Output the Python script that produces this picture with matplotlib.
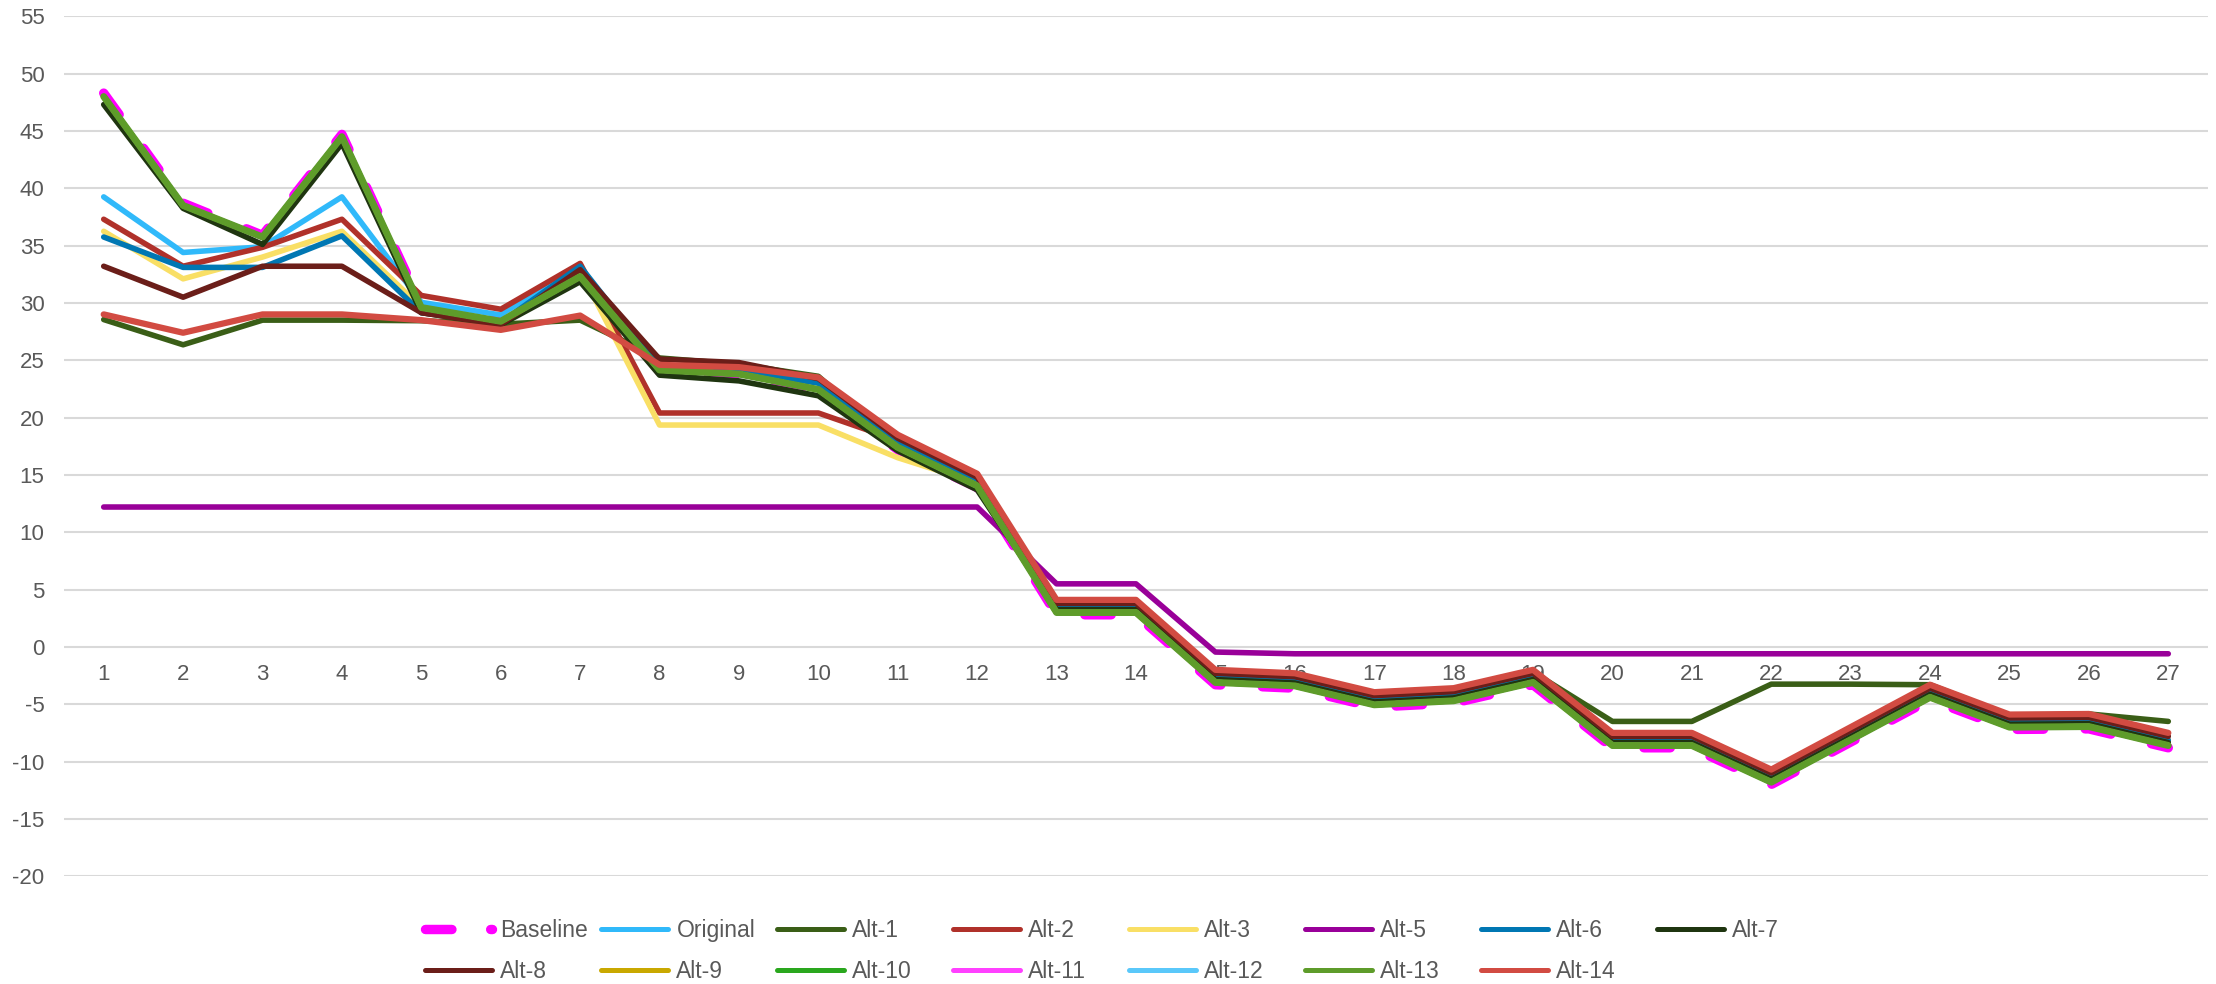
import matplotlib
matplotlib.use("Agg")
import matplotlib.pyplot as plt
from matplotlib.lines import Line2D

plt.rcParams['font.family'] = ['Liberation Sans', 'DejaVu Sans']
plt.rcParams['axes.unicode_minus'] = False

# categories on the x axis
categories = list(range(1, 28))

# series values
baseline = [48.3, 38.7, 35.9, 44.7, 29.8, 28.5, 32.4, 24.0, 23.6, 22.3, 17.2, 13.9, 2.8, 2.8,
            -3.3, -3.6, -5.25, -4.9, -3.3, -8.8, -8.8, -12.0, -8.3, -4.6, -7.2, -7.15, -8.8]
original = [39.25, 34.4, 34.9, 39.25, 30.05, 28.95, 33.0, 24.5, 24.2, 23.05, 17.9, 14.5, 3.45, 3.45,
            -2.65, -2.95, -4.6, -4.25, -2.65, -8.15, -8.15, -11.35, -7.65, -3.95, -6.55, -6.5, -8.15]
alt_1 = [28.55, 26.35, 28.5, 28.5, 28.45, 28.15, 28.5, 25.2, 24.65, 23.6, 17.6, 14.3, 3.0, 3.0,
         -2.9, -3.2, -4.8, -4.5, -2.2, -6.5, -6.5, -3.25, -3.25, -3.3, -6.0, -5.85, -6.5]
alt_2 = [37.3, 33.2, 34.85, 37.3, 30.65, 29.45, 33.45, 20.4, 20.4, 20.4, 18.0, 14.6, 3.45, 3.45,
         -2.65, -2.95, -4.6, -4.25, -2.65, -8.15, -8.15, -11.35, -7.65, -3.95, -6.55, -6.5, -8.15]
alt_3 = [36.25, 32.1, 34.0, 36.25, 29.6, 28.4, 32.85, 19.35, 19.35, 19.35, 16.5, 14.3, 3.45, 3.45,
         -2.65, -2.95, -4.6, -4.25, -2.65, -8.15, -8.15, -11.35, -7.65, -3.95, -6.55, -6.5, -8.15]
alt_5 = [12.2, 12.2, 12.2, 12.2, 12.2, 12.2, 12.2, 12.2, 12.2, 12.2, 12.2, 12.2, 5.5, 5.5,
         -0.45, -0.6, -0.6, -0.6, -0.6, -0.6, -0.6, -0.6, -0.6, -0.6, -0.6, -0.6, -0.6]
alt_6 = [35.75, 33.1, 33.1, 35.85, 29.15, 28.3, 33.2, 24.4, 24.1, 23.0, 17.9, 14.6, 3.45, 3.45,
         -2.65, -2.95, -4.6, -4.25, -2.65, -8.15, -8.15, -11.35, -7.65, -3.95, -6.55, -6.5, -8.15]
alt_7 = [47.3, 38.25, 35.1, 43.9, 29.15, 28.1, 31.85, 23.7, 23.2, 21.9, 17.1, 13.7, 3.25, 3.25,
         -2.85, -3.15, -4.8, -4.45, -2.85, -8.35, -8.35, -11.55, -7.85, -4.15, -6.75, -6.7, -8.35]
alt_8 = [33.2, 30.5, 33.2, 33.2, 29.15, 28.1, 32.9, 25.1, 24.8, 23.4, 18.2, 14.8, 3.8, 3.8,
         -2.3, -2.6, -4.25, -3.9, -2.3, -7.8, -7.8, -11.0, -7.3, -3.6, -6.2, -6.15, -7.8]
alt_9 = [48.0, 38.5, 35.75, 44.5, 29.6, 28.4, 32.3, 24.15, 23.8, 22.45, 17.4, 14.05, 3.0, 3.0,
         -3.1, -3.4, -5.05, -4.7, -3.1, -8.6, -8.6, -11.8, -8.1, -4.4, -7.0, -6.95, -8.6]
alt_10 = [48.0, 38.5, 35.75, 44.5, 29.6, 28.4, 32.3, 24.15, 23.8, 22.45, 17.4, 14.05, 3.0, 3.0,
          -3.1, -3.4, -5.05, -4.7, -3.1, -8.6, -8.6, -11.8, -8.1, -4.4, -7.0, -6.95, -8.6]
alt_11 = [48.0, 38.5, 35.75, 44.5, 29.6, 28.4, 32.3, 24.15, 23.8, 22.45, 17.4, 14.05, 3.0, 3.0,
          -3.1, -3.4, -5.05, -4.7, -3.1, -8.6, -8.6, -11.8, -8.1, -4.4, -7.0, -6.95, -8.6]
alt_12 = [48.0, 38.5, 35.75, 44.5, 29.6, 28.4, 32.3, 24.15, 23.8, 22.45, 17.4, 14.05, 3.0, 3.0,
          -3.1, -3.4, -5.05, -4.7, -3.1, -8.6, -8.6, -11.8, -8.1, -4.4, -7.0, -6.95, -8.6]
alt_13 = [48.0, 38.5, 35.75, 44.5, 29.6, 28.4, 32.3, 24.15, 23.8, 22.45, 17.4, 14.05, 3.0, 3.0,
          -3.1, -3.4, -5.05, -4.7, -3.1, -8.6, -8.6, -11.8, -8.1, -4.4, -7.0, -6.95, -8.6]
alt_14 = [29.0, 27.4, 29.0, 29.0, 28.5, 27.65, 28.9, 24.6, 24.4, 23.5, 18.5, 15.1, 4.1, 4.1,
          -2.0, -2.3, -3.95, -3.6, -2.0, -7.5, -7.5, -10.7, -7.0, -3.3, -5.9, -5.85, -7.5]

series_names = ['Baseline', 'Original', 'Alt-1', 'Alt-2', 'Alt-3', 'Alt-5', 'Alt-6', 'Alt-7',
                'Alt-8', 'Alt-9', 'Alt-10', 'Alt-11', 'Alt-12', 'Alt-13', 'Alt-14']
series_values = [baseline, original, alt_1, alt_2, alt_3, alt_5, alt_6, alt_7,
                 alt_8, alt_9, alt_10, alt_11, alt_12, alt_13, alt_14]
colors = ['#FF00FF', '#30B9FA', '#3A5E17', '#B0312A', '#F9DF65', '#990099', '#0077B3', '#1F3510',
          '#6B1E19', '#C9A800', '#2AA71E', '#FF40FF', '#5AC8FA', '#5E9C2A', '#D24B42']

text_color = '#595959'
W, H = 2216, 984

fig = plt.figure(figsize=(W / 100, H / 100), dpi=100)
ax = fig.add_axes([64 / W, 1 - 876.2 / H, (2208 - 64) / W, (876.2 - 16.3) / H])

widths = {'Baseline': 6.8, 'Alt-13': 5.0, 'Alt-14': 4.5}
for name, vals, col in zip(series_names, series_values, colors):
    lw = widths.get(name, 4.0)
    if name == 'Baseline':
        ax.plot(categories, vals, color=col, lw=lw, dashes=(2.8, 4.4),
                dash_capstyle='round', dash_joinstyle='round', zorder=2)
    else:
        ax.plot(categories, vals, color=col, lw=lw, solid_capstyle='round',
                solid_joinstyle='round', zorder=2)

ax.set_xlim(0.5, 27.5)
ax.set_ylim(-20, 55)
ax.set_yticks(range(-20, 56, 5))
ax.set_xticks(categories)
ax.set_xticklabels([str(c) for c in categories])
ax.yaxis.grid(True, color='#D9D9D9', lw=1.5)
ax.xaxis.grid(False)
for s in ax.spines.values():
    s.set_visible(False)
ax.spines['bottom'].set_position(('data', 0))
ax.tick_params(axis='both', length=0, labelsize=16, labelcolor=text_color)
ax.tick_params(axis='y', pad=14)
ax.tick_params(axis='x', pad=12.5)

# legend: Excel style fixed-width columns, two rows
row1 = series_names[:8]
row2 = series_names[8:]
for c in range(8):
    names = [r[c] for r in (row1, row2) if c < len(r)]
    handles = []
    for n in names:
        i = series_names.index(n)
        if n == 'Baseline':
            handles.append(Line2D([], [], color=colors[i], lw=6.8, dashes=(2.8, 4.1),
                                  dash_capstyle='round'))
        else:
            handles.append(Line2D([], [], color=colors[i], lw=3.6, solid_capstyle='round'))
    y = 1 - 951 / H if len(names) == 2 else 1 - 930.5 / H
    fig.legend(handles, names, loc='center left', bbox_to_anchor=((424.75 + 176 * c) / W, y),
               frameon=False, borderpad=0, borderaxespad=0, handlelength=2.95,
               handletextpad=0.35, labelspacing=0.8, fontsize=16.5, labelcolor=text_color)

fig.savefig('out.png', dpi=100)
